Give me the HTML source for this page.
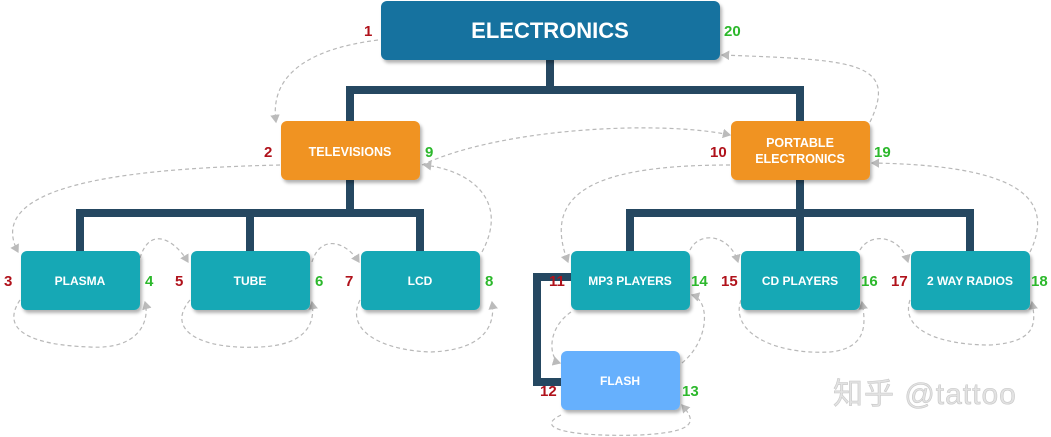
<!DOCTYPE html>
<html><head><meta charset="utf-8"><style>
html,body{margin:0;padding:0;background:#fff;}
svg{display:block;font-family:"Liberation Sans","Noto Sans CJK SC",sans-serif;}
.box text{fill:#fff;font-weight:bold;text-anchor:middle;}
.num{font-weight:bold;font-size:15px;}
.r{fill:#b0121b;} .g{fill:#2cb82c;}
.d{fill:none;stroke:#b8b8b8;stroke-width:1.2;stroke-dasharray:4 3;}
.c{fill:none;stroke:#254861;stroke-width:8;}
</style></head><body>
<svg width="1051" height="437" viewBox="0 0 1051 437">
<defs>
<filter id="sh" x="-10%" y="-10%" width="130%" height="140%"><feDropShadow dx="2" dy="3" stdDeviation="1.5" flood-color="#000" flood-opacity="0.3"/></filter>
<marker id="ar" markerWidth="8" markerHeight="8" refX="6" refY="4" orient="auto"><path d="M0,0 L7,4 L0,8 z" fill="#bbb"/></marker>
</defs>
<g>
<path class="c" d="M550,60 V90 M346,90 H804 M350,90 V121 M800,90 V121"/>
<path class="c" d="M350,180 V213 M76,213 H424 M80,213 V251 M250,213 V251 M420,213 V251"/>
<path class="c" d="M800,180 V213 M626,213 H974 M630,213 V251 M800,213 V251 M970,213 V251"/>
<path class="c" d="M571,277 H537 V382 H561"/>
</g>
<g>
<path class="d" marker-end="url(#ar)" d="M378,40 C300,50 270,80 276,122"/>
<path class="d" marker-end="url(#ar)" d="M422,165 C500,128 660,120 730,135"/>
<path class="d" marker-end="url(#ar)" d="M870,122 C900,60 850,60 722,55"/>
<path class="d" marker-end="url(#ar)" d="M280,165 C150,168 -20,180 18,252"/>
<path class="d" marker-end="url(#ar)" d="M20,300 C0,330 30,345 90,347 C140,350 150,320 145,302"/>
<path class="d" marker-end="url(#ar)" d="M140,258 C150,225 175,240 188,262"/>
<path class="d" marker-end="url(#ar)" d="M190,300 C165,330 200,350 260,347 C310,345 315,320 312,302"/>
<path class="d" marker-end="url(#ar)" d="M312,262 C320,235 345,240 359,262"/>
<path class="d" marker-end="url(#ar)" d="M360,300 C345,330 380,350 430,352 C490,350 495,320 492,302"/>
<path class="d" marker-end="url(#ar)" d="M482,252 C510,200 470,170 424,165"/>
<path class="d" marker-end="url(#ar)" d="M730,165 C600,165 540,190 568,262"/>
<path class="d" marker-end="url(#ar)" d="M571,312 C545,330 550,360 560,363"/>
<path class="d" marker-end="url(#ar)" d="M682,363 C710,340 710,300 692,295"/>
<path class="d" marker-end="url(#ar)" d="M561,415 C530,430 580,437 640,435 C700,432 695,420 682,405"/>
<path class="d" marker-end="url(#ar)" d="M690,250 C700,230 730,235 738,262"/>
<path class="d" marker-end="url(#ar)" d="M741,300 C730,330 770,355 830,352 C870,348 865,320 862,302"/>
<path class="d" marker-end="url(#ar)" d="M860,250 C870,232 900,235 908,262"/>
<path class="d" marker-end="url(#ar)" d="M910,300 C900,330 940,345 990,345 C1040,342 1035,320 1032,302"/>
<path class="d" marker-end="url(#ar)" d="M1030,252 C1060,190 1000,165 872,163"/>
</g>
<g class="box" filter="url(#sh)">
<g><rect x="381" y="1" width="339" height="59" rx="6" fill="#16729f"/><text x="550" y="38" font-size="22">ELECTRONICS</text></g>
<g><rect x="281" y="121" width="139" height="59" rx="6" fill="#f09320"/><text x="350" y="156" font-size="12.5">TELEVISIONS</text></g>
<g><rect x="731" y="121" width="139" height="59" rx="6" fill="#f09320"/><text x="800" y="147" font-size="12.5">PORTABLE</text><text x="800" y="163" font-size="12.5">ELECTRONICS</text></g>
<g><rect x="21" y="251" width="119" height="59" rx="6" fill="#15a8b5"/><text x="80" y="285" font-size="12">PLASMA</text></g>
<g><rect x="191" y="251" width="119" height="59" rx="6" fill="#15a8b5"/><text x="250" y="285" font-size="12">TUBE</text></g>
<g><rect x="361" y="251" width="119" height="59" rx="6" fill="#15a8b5"/><text x="420" y="285" font-size="12">LCD</text></g>
<g><rect x="571" y="251" width="119" height="59" rx="6" fill="#15a8b5"/><text x="630" y="285" font-size="12">MP3 PLAYERS</text></g>
<g><rect x="741" y="251" width="119" height="59" rx="6" fill="#15a8b5"/><text x="800" y="285" font-size="12">CD PLAYERS</text></g>
<g><rect x="911" y="251" width="119" height="59" rx="6" fill="#15a8b5"/><text x="970" y="285" font-size="12">2 WAY RADIOS</text></g>
<g><rect x="561" y="351" width="119" height="59" rx="6" fill="#66b0fd"/><text x="620" y="385" font-size="12">FLASH</text></g>
</g>
<g>
<text class="num r" x="364" y="36">1</text><text class="num g" x="724" y="36">20</text>
<text class="num r" x="264" y="157">2</text><text class="num g" x="425" y="157">9</text>
<text class="num r" x="710" y="157">10</text><text class="num g" x="874" y="157">19</text>
<text class="num r" x="4" y="286">3</text><text class="num g" x="145" y="286">4</text>
<text class="num r" x="175" y="286">5</text><text class="num g" x="315" y="286">6</text>
<text class="num r" x="345" y="286">7</text><text class="num g" x="485" y="286">8</text>
<text class="num r" x="549" y="286">11</text><text class="num g" x="691" y="286">14</text>
<text class="num r" x="721" y="286">15</text><text class="num g" x="861" y="286">16</text>
<text class="num r" x="891" y="286">17</text><text class="num g" x="1031" y="286">18</text>
<text class="num r" x="540" y="396">12</text><text class="num g" x="682" y="396">13</text>
</g>
<text x="833" y="404" font-size="30" letter-spacing="1" fill="#e2e2e2" stroke="#c8c8c8" stroke-width="0.6">知乎 @tattoo</text>
</svg>
</body></html>
